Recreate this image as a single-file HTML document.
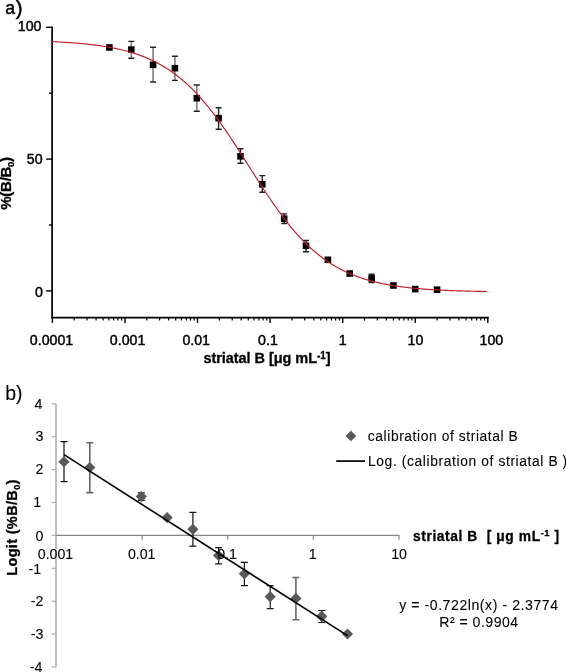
<!DOCTYPE html>
<html><head><meta charset="utf-8"><title>Figure</title>
<style>html,body{margin:0;padding:0;background:#fff;} svg{display:block;}</style></head>
<body><svg width="566" height="672" viewBox="0 0 566 672">
<rect width="566" height="672" fill="#fff"/>
<path d="M52.1,26.560000000000002 V318.20000000000005" stroke="#000" stroke-width="1.7" fill="none"/>
<path d="M46.1,27.3 H52.1" stroke="#000" stroke-width="1.4"/>
<path d="M49.1,93.2 H52.1" stroke="#000" stroke-width="1.4"/>
<path d="M46.1,159.1 H52.1" stroke="#000" stroke-width="1.4"/>
<path d="M49.1,225.0 H52.1" stroke="#000" stroke-width="1.4"/>
<path d="M46.1,290.9 H52.1" stroke="#000" stroke-width="1.4"/>
<path d="M51.300000000000004,317.6 H488.8" stroke="#000" stroke-width="1.6"/>
<path d="M52.4,317.6 V322.90000000000003" stroke="#000" stroke-width="1.4"/>
<path d="M74.2,317.6 V320.6" stroke="#000" stroke-width="1.2"/>
<path d="M87.0,317.6 V320.6" stroke="#000" stroke-width="1.2"/>
<path d="M96.1,317.6 V320.6" stroke="#000" stroke-width="1.2"/>
<path d="M103.1,317.6 V320.6" stroke="#000" stroke-width="1.2"/>
<path d="M108.9,317.6 V320.6" stroke="#000" stroke-width="1.2"/>
<path d="M113.7,317.6 V320.6" stroke="#000" stroke-width="1.2"/>
<path d="M117.9,317.6 V320.6" stroke="#000" stroke-width="1.2"/>
<path d="M121.6,317.6 V320.6" stroke="#000" stroke-width="1.2"/>
<path d="M125.0,317.6 V322.90000000000003" stroke="#000" stroke-width="1.4"/>
<path d="M146.8,317.6 V320.6" stroke="#000" stroke-width="1.2"/>
<path d="M159.6,317.6 V320.6" stroke="#000" stroke-width="1.2"/>
<path d="M168.7,317.6 V320.6" stroke="#000" stroke-width="1.2"/>
<path d="M175.7,317.6 V320.6" stroke="#000" stroke-width="1.2"/>
<path d="M181.4,317.6 V320.6" stroke="#000" stroke-width="1.2"/>
<path d="M186.3,317.6 V320.6" stroke="#000" stroke-width="1.2"/>
<path d="M190.5,317.6 V320.6" stroke="#000" stroke-width="1.2"/>
<path d="M194.2,317.6 V320.6" stroke="#000" stroke-width="1.2"/>
<path d="M197.5,317.6 V322.90000000000003" stroke="#000" stroke-width="1.4"/>
<path d="M219.4,317.6 V320.6" stroke="#000" stroke-width="1.2"/>
<path d="M232.2,317.6 V320.6" stroke="#000" stroke-width="1.2"/>
<path d="M241.2,317.6 V320.6" stroke="#000" stroke-width="1.2"/>
<path d="M248.3,317.6 V320.6" stroke="#000" stroke-width="1.2"/>
<path d="M254.0,317.6 V320.6" stroke="#000" stroke-width="1.2"/>
<path d="M258.9,317.6 V320.6" stroke="#000" stroke-width="1.2"/>
<path d="M263.1,317.6 V320.6" stroke="#000" stroke-width="1.2"/>
<path d="M266.8,317.6 V320.6" stroke="#000" stroke-width="1.2"/>
<path d="M270.1,317.6 V322.90000000000003" stroke="#000" stroke-width="1.4"/>
<path d="M292.0,317.6 V320.6" stroke="#000" stroke-width="1.2"/>
<path d="M304.7,317.6 V320.6" stroke="#000" stroke-width="1.2"/>
<path d="M313.8,317.6 V320.6" stroke="#000" stroke-width="1.2"/>
<path d="M320.8,317.6 V320.6" stroke="#000" stroke-width="1.2"/>
<path d="M326.6,317.6 V320.6" stroke="#000" stroke-width="1.2"/>
<path d="M331.4,317.6 V320.6" stroke="#000" stroke-width="1.2"/>
<path d="M335.6,317.6 V320.6" stroke="#000" stroke-width="1.2"/>
<path d="M339.4,317.6 V320.6" stroke="#000" stroke-width="1.2"/>
<path d="M342.7,317.6 V322.90000000000003" stroke="#000" stroke-width="1.4"/>
<path d="M364.5,317.6 V320.6" stroke="#000" stroke-width="1.2"/>
<path d="M377.3,317.6 V320.6" stroke="#000" stroke-width="1.2"/>
<path d="M386.4,317.6 V320.6" stroke="#000" stroke-width="1.2"/>
<path d="M393.4,317.6 V320.6" stroke="#000" stroke-width="1.2"/>
<path d="M399.2,317.6 V320.6" stroke="#000" stroke-width="1.2"/>
<path d="M404.0,317.6 V320.6" stroke="#000" stroke-width="1.2"/>
<path d="M408.2,317.6 V320.6" stroke="#000" stroke-width="1.2"/>
<path d="M411.9,317.6 V320.6" stroke="#000" stroke-width="1.2"/>
<path d="M415.2,317.6 V322.90000000000003" stroke="#000" stroke-width="1.4"/>
<path d="M437.1,317.6 V320.6" stroke="#000" stroke-width="1.2"/>
<path d="M449.9,317.6 V320.6" stroke="#000" stroke-width="1.2"/>
<path d="M458.9,317.6 V320.6" stroke="#000" stroke-width="1.2"/>
<path d="M466.0,317.6 V320.6" stroke="#000" stroke-width="1.2"/>
<path d="M471.7,317.6 V320.6" stroke="#000" stroke-width="1.2"/>
<path d="M476.6,317.6 V320.6" stroke="#000" stroke-width="1.2"/>
<path d="M480.8,317.6 V320.6" stroke="#000" stroke-width="1.2"/>
<path d="M484.5,317.6 V320.6" stroke="#000" stroke-width="1.2"/>
<path d="M487.8,317.6 V322.90000000000003" stroke="#000" stroke-width="1.4"/>
<rect x="106.1" y="44.2" width="6.6" height="6.6" fill="#000"/>
<path d="M131.3,41.4 V58.3" stroke="#858585" stroke-width="1.7" fill="none"/>
<path d="M128.3,41.4 h6 M128.3,58.3 h6" stroke="#222" stroke-width="1.4" fill="none"/>
<rect x="128.0" y="46.3" width="6.6" height="6.6" fill="#000"/>
<path d="M153.1,47.3 V82" stroke="#858585" stroke-width="1.7" fill="none"/>
<path d="M150.1,47.3 h6 M150.1,82 h6" stroke="#222" stroke-width="1.4" fill="none"/>
<rect x="149.8" y="61.5" width="6.6" height="6.6" fill="#000"/>
<path d="M174.9,56.2 V80.4" stroke="#858585" stroke-width="1.7" fill="none"/>
<path d="M171.9,56.2 h6 M171.9,80.4 h6" stroke="#222" stroke-width="1.4" fill="none"/>
<rect x="171.6" y="64.9" width="6.6" height="6.6" fill="#000"/>
<path d="M196.8,85 V111.3" stroke="#858585" stroke-width="1.7" fill="none"/>
<path d="M193.8,85 h6 M193.8,111.3 h6" stroke="#222" stroke-width="1.4" fill="none"/>
<rect x="193.5" y="94.9" width="6.6" height="6.6" fill="#000"/>
<path d="M218.6,107.7 V129.3 M215.6,107.7 h6 M215.6,129.3 h6" stroke="#222" stroke-width="1.4" fill="none"/>
<rect x="215.3" y="114.9" width="6.6" height="6.6" fill="#000"/>
<path d="M240.5,148.8 V163.2 M237.5,148.8 h6 M237.5,163.2 h6" stroke="#222" stroke-width="1.4" fill="none"/>
<rect x="237.2" y="153.0" width="6.6" height="6.6" fill="#000"/>
<path d="M262.3,175.6 V192.2 M259.3,175.6 h6 M259.3,192.2 h6" stroke="#222" stroke-width="1.4" fill="none"/>
<rect x="259.0" y="181.0" width="6.6" height="6.6" fill="#000"/>
<path d="M284.2,213.9 V223.5 M281.2,213.9 h6 M281.2,223.5 h6" stroke="#222" stroke-width="1.4" fill="none"/>
<rect x="280.9" y="215.4" width="6.6" height="6.6" fill="#000"/>
<path d="M306.0,240.5 V251.8 M303.0,240.5 h6 M303.0,251.8 h6" stroke="#222" stroke-width="1.4" fill="none"/>
<rect x="302.7" y="242.5" width="6.6" height="6.6" fill="#000"/>
<rect x="324.6" y="256.5" width="6.6" height="6.6" fill="#000"/>
<rect x="346.4" y="270.2" width="6.6" height="6.6" fill="#000"/>
<path d="M371.6,274.3 V282.6 M368.6,274.3 h6 M368.6,282.6 h6" stroke="#222" stroke-width="1.4" fill="none"/>
<rect x="368.3" y="275.1" width="6.6" height="6.6" fill="#000"/>
<rect x="390.1" y="282.2" width="6.6" height="6.6" fill="#000"/>
<rect x="411.9" y="285.8" width="6.6" height="6.6" fill="#000"/>
<rect x="433.8" y="286.4" width="6.6" height="6.6" fill="#000"/>
<polyline points="52.1,41.63 53.1,41.67 54.1,41.72 55.1,41.77 56.1,41.82 57.1,41.87 58.1,41.92 59.1,41.97 60.1,42.03 61.1,42.08 62.1,42.14 63.1,42.20 64.1,42.26 65.1,42.32 66.1,42.38 67.1,42.45 68.1,42.51 69.1,42.58 70.1,42.65 71.1,42.72 72.1,42.79 73.1,42.87 74.1,42.95 75.1,43.02 76.1,43.10 77.1,43.19 78.1,43.27 79.1,43.36 80.1,43.45 81.1,43.54 82.1,43.63 83.1,43.73 84.1,43.82 85.1,43.92 86.1,44.03 87.1,44.13 88.1,44.24 89.1,44.35 90.1,44.46 91.1,44.58 92.1,44.70 93.1,44.82 94.1,44.94 95.1,45.07 96.1,45.20 97.1,45.33 98.1,45.47 99.1,45.61 100.1,45.75 101.1,45.90 102.1,46.05 103.1,46.21 104.1,46.36 105.1,46.53 106.1,46.69 107.1,46.86 108.1,47.03 109.1,47.21 110.1,47.39 111.1,47.58 112.1,47.77 113.1,47.97 114.1,48.17 115.1,48.37 116.1,48.58 117.1,48.80 118.1,49.02 119.1,49.24 120.1,49.47 121.1,49.71 122.1,49.95 123.1,50.19 124.1,50.45 125.1,50.70 126.1,50.97 127.1,51.24 128.1,51.51 129.1,51.80 130.1,52.09 131.1,52.38 132.1,52.69 133.1,53.00 134.1,53.31 135.1,53.64 136.1,53.97 137.1,54.31 138.1,54.65 139.1,55.01 140.1,55.37 141.1,55.74 142.1,56.11 143.1,56.50 144.1,56.90 145.1,57.30 146.1,57.71 147.1,58.13 148.1,58.56 149.1,59.00 150.1,59.45 151.1,59.91 152.1,60.38 153.1,60.86 154.1,61.35 155.1,61.85 156.1,62.35 157.1,62.87 158.1,63.40 159.1,63.95 160.1,64.50 161.1,65.06 162.1,65.64 163.1,66.22 164.1,66.82 165.1,67.43 166.1,68.06 167.1,68.69 168.1,69.34 169.1,70.00 170.1,70.67 171.1,71.36 172.1,72.05 173.1,72.77 174.1,73.49 175.1,74.23 176.1,74.98 177.1,75.75 178.1,76.53 179.1,77.32 180.1,78.13 181.1,78.95 182.1,79.78 183.1,80.63 184.1,81.50 185.1,82.38 186.1,83.27 187.1,84.18 188.1,85.11 189.1,86.04 190.1,87.00 191.1,87.97 192.1,88.95 193.1,89.95 194.1,90.97 195.1,92.00 196.1,93.04 197.1,94.10 198.1,95.18 199.1,96.27 200.1,97.37 201.1,98.50 202.1,99.63 203.1,100.78 204.1,101.95 205.1,103.13 206.1,104.33 207.1,105.54 208.1,106.76 209.1,108.00 210.1,109.26 211.1,110.53 212.1,111.81 213.1,113.11 214.1,114.42 215.1,115.74 216.1,117.08 217.1,118.43 218.1,119.79 219.1,121.17 220.1,122.55 221.1,123.95 222.1,125.37 223.1,126.79 224.1,128.22 225.1,129.67 226.1,131.12 227.1,132.59 228.1,134.06 229.1,135.55 230.1,137.04 231.1,138.55 232.1,140.06 233.1,141.57 234.1,143.10 235.1,144.63 236.1,146.17 237.1,147.72 238.1,149.27 239.1,150.82 240.1,152.38 241.1,153.95 242.1,155.52 243.1,157.09 244.1,158.67 245.1,160.24 246.1,161.82 247.1,163.40 248.1,164.98 249.1,166.56 250.1,168.14 251.1,169.73 252.1,171.30 253.1,172.88 254.1,174.46 255.1,176.03 256.1,177.60 257.1,179.17 258.1,180.73 259.1,182.29 260.1,183.84 261.1,185.38 262.1,186.93 263.1,188.46 264.1,189.99 265.1,191.51 266.1,193.02 267.1,194.53 268.1,196.02 269.1,197.51 270.1,198.99 271.1,200.46 272.1,201.91 273.1,203.36 274.1,204.80 275.1,206.22 276.1,207.64 277.1,209.04 278.1,210.43 279.1,211.81 280.1,213.18 281.1,214.53 282.1,215.87 283.1,217.20 284.1,218.52 285.1,219.82 286.1,221.10 287.1,222.38 288.1,223.63 289.1,224.88 290.1,226.11 291.1,227.32 292.1,228.52 293.1,229.71 294.1,230.88 295.1,232.03 296.1,233.18 297.1,234.30 298.1,235.41 299.1,236.51 300.1,237.59 301.1,238.65 302.1,239.70 303.1,240.73 304.1,241.75 305.1,242.76 306.1,243.74 307.1,244.72 308.1,245.68 309.1,246.62 310.1,247.55 311.1,248.46 312.1,249.36 313.1,250.24 314.1,251.11 315.1,251.97 316.1,252.81 317.1,253.63 318.1,254.44 319.1,255.24 320.1,256.02 321.1,256.79 322.1,257.55 323.1,258.29 324.1,259.02 325.1,259.73 326.1,260.44 327.1,261.12 328.1,261.80 329.1,262.46 330.1,263.11 331.1,263.75 332.1,264.38 333.1,264.99 334.1,265.59 335.1,266.18 336.1,266.76 337.1,267.33 338.1,267.89 339.1,268.43 340.1,268.96 341.1,269.49 342.1,270.00 343.1,270.50 344.1,270.99 345.1,271.47 346.1,271.94 347.1,272.40 348.1,272.86 349.1,273.30 350.1,273.73 351.1,274.16 352.1,274.57 353.1,274.98 354.1,275.37 355.1,275.76 356.1,276.14 357.1,276.51 358.1,276.88 359.1,277.23 360.1,277.58 361.1,277.92 362.1,278.26 363.1,278.58 364.1,278.90 365.1,279.21 366.1,279.52 367.1,279.82 368.1,280.11 369.1,280.39 370.1,280.67 371.1,280.94 372.1,281.21 373.1,281.47 374.1,281.72 375.1,281.97 376.1,282.21 377.1,282.45 378.1,282.68 379.1,282.91 380.1,283.13 381.1,283.34 382.1,283.55 383.1,283.76 384.1,283.96 385.1,284.16 386.1,284.35 387.1,284.54 388.1,284.72 389.1,284.90 390.1,285.08 391.1,285.25 392.1,285.41 393.1,285.58 394.1,285.73 395.1,285.89 396.1,286.04 397.1,286.19 398.1,286.33 399.1,286.48 400.1,286.61 401.1,286.75 402.1,286.88 403.1,287.01 404.1,287.13 405.1,287.25 406.1,287.37 407.1,287.49 408.1,287.60 409.1,287.71 410.1,287.82 411.1,287.93 412.1,288.03 413.1,288.13 414.1,288.23 415.1,288.33 416.1,288.42 417.1,288.51 418.1,288.60 419.1,288.69 420.1,288.77 421.1,288.86 422.1,288.94 423.1,289.02 424.1,289.09 425.1,289.17 426.1,289.24 427.1,289.31 428.1,289.38 429.1,289.45 430.1,289.52 431.1,289.58 432.1,289.65 433.1,289.71 434.1,289.77 435.1,289.83 436.1,289.88 437.1,289.94 438.1,290.00 439.1,290.05 440.1,290.10 441.1,290.15 442.1,290.20 443.1,290.25 444.1,290.30 445.1,290.34 446.1,290.39 447.1,290.43 448.1,290.47 449.1,290.52 450.1,290.56 451.1,290.60 452.1,290.63 453.1,290.67 454.1,290.71 455.1,290.74 456.1,290.78 457.1,290.81 458.1,290.85 459.1,290.88 460.1,290.91 461.1,290.94 462.1,290.97 463.1,291.00 464.1,291.03 465.1,291.06 466.1,291.09 467.1,291.11 468.1,291.14 469.1,291.16 470.1,291.19 471.1,291.21 472.1,291.24 473.1,291.26 474.1,291.28 475.1,291.30 476.1,291.33 477.1,291.35 478.1,291.37 479.1,291.39 480.1,291.41 481.1,291.42 482.1,291.44 483.1,291.46 484.1,291.48 485.1,291.49 486.1,291.51 487.1,291.53" fill="none" stroke="#c41c26" stroke-width="1.15"/>
<path d="M56.0,403.79999999999995 V667.0" stroke="#bbb" stroke-width="1.9" fill="none"/>
<path d="M51.6,667.0 H56.0" stroke="#aaa" stroke-width="1.2"/>
<path d="M51.6,634.1 H56.0" stroke="#aaa" stroke-width="1.2"/>
<path d="M51.6,601.2 H56.0" stroke="#aaa" stroke-width="1.2"/>
<path d="M51.6,568.3 H56.0" stroke="#aaa" stroke-width="1.2"/>
<path d="M51.6,535.4 H56.0" stroke="#aaa" stroke-width="1.2"/>
<path d="M51.6,502.5 H56.0" stroke="#aaa" stroke-width="1.2"/>
<path d="M51.6,469.6 H56.0" stroke="#aaa" stroke-width="1.2"/>
<path d="M51.6,436.7 H56.0" stroke="#aaa" stroke-width="1.2"/>
<path d="M51.6,403.8 H56.0" stroke="#aaa" stroke-width="1.2"/>
<path d="M142.2,535.4 V539.6999999999999" stroke="#999" stroke-width="1.4"/>
<path d="M227.8,535.4 V539.6999999999999" stroke="#999" stroke-width="1.4"/>
<path d="M313.4,535.4 V539.6999999999999" stroke="#999" stroke-width="1.4"/>
<path d="M399.0,535.4 V539.6999999999999" stroke="#999" stroke-width="1.4"/>
<path d="M56.0,535.4 H399.6" stroke="#888" stroke-width="1.2"/>
<path d="M64.0,441.6 V481.6 M60.5,441.6 h7 M60.5,481.6 h7" stroke="#111" stroke-width="1.2" fill="none"/>
<path d="M89.8,442.7 V492.6 M86.3,442.7 h7 M86.3,492.6 h7" stroke="#666" stroke-width="1.6" fill="none"/>
<path d="M141.3,492.9 V500.3 M137.8,492.9 h7 M137.8,500.3 h7" stroke="#111" stroke-width="1.2" fill="none"/>
<path d="M192.9,512.4 V546.2 M189.4,512.4 h7 M189.4,546.2 h7" stroke="#111" stroke-width="1.2" fill="none"/>
<path d="M218.6,547.7 V563.9 M215.1,547.7 h7 M215.1,563.9 h7" stroke="#111" stroke-width="1.2" fill="none"/>
<path d="M244.4,562.3 V585.7 M240.9,562.3 h7 M240.9,585.7 h7" stroke="#111" stroke-width="1.2" fill="none"/>
<path d="M270.2,585.7 V608.7 M266.7,585.7 h7 M266.7,608.7 h7" stroke="#222" stroke-width="1.2" fill="none"/>
<path d="M295.9,577.5 V619.7 M292.4,577.5 h7 M292.4,619.7 h7" stroke="#666" stroke-width="1.6" fill="none"/>
<path d="M321.7,610.5 V622.5 M318.2,610.5 h7 M318.2,622.5 h7" stroke="#111" stroke-width="1.2" fill="none"/>
<path d="M64.0,456.2 l5.6,5.6 l-5.6,5.6 l-5.6,-5.6 z" fill="#595959"/>
<path d="M89.8,461.9 l5.6,5.6 l-5.6,5.6 l-5.6,-5.6 z" fill="#595959"/>
<path d="M141.3,491.0 l5.6,5.6 l-5.6,5.6 l-5.6,-5.6 z" fill="#595959"/>
<path d="M167.1,512.0 l5.6,5.6 l-5.6,5.6 l-5.6,-5.6 z" fill="#595959"/>
<path d="M192.9,523.7 l5.6,5.6 l-5.6,5.6 l-5.6,-5.6 z" fill="#595959"/>
<path d="M218.6,549.9 l5.6,5.6 l-5.6,5.6 l-5.6,-5.6 z" fill="#595959"/>
<path d="M244.4,568.2 l5.6,5.6 l-5.6,5.6 l-5.6,-5.6 z" fill="#595959"/>
<path d="M270.2,591.1 l5.6,5.6 l-5.6,5.6 l-5.6,-5.6 z" fill="#595959"/>
<path d="M295.9,592.8 l5.6,5.6 l-5.6,5.6 l-5.6,-5.6 z" fill="#595959"/>
<path d="M321.7,610.7 l5.6,5.6 l-5.6,5.6 l-5.6,-5.6 z" fill="#595959"/>
<path d="M347.5,628.4 l5.6,5.6 l-5.6,5.6 l-5.6,-5.6 z" fill="#595959"/>
<path d="M64.0,454.7 L347.5,635.7" stroke="#000" stroke-width="1.6"/>
<path d="M350.9,430.6 l5.3,5.3 l-5.3,5.3 l-5.3,-5.3 z" fill="#595959"/>
<path d="M336.2,461.1 H365" stroke="#000" stroke-width="1.7"/>
<text id="a)" x="5.15" y="13.60" font-family="Liberation Sans, Arial, Helvetica, sans-serif" font-size="17.6" stroke="#000" stroke-width="0.45" style="white-space:pre">a</text>
<text id="a)p" x="15.75" y="14.80" font-family="Liberation Sans, Arial, Helvetica, sans-serif" font-size="20.5" stroke="#000" stroke-width="0.45" style="white-space:pre">)</text>
<text id="100" x="17.80" y="31.25" font-family="Liberation Sans, Arial, Helvetica, sans-serif" font-size="14.2" stroke="#000" stroke-width="0.45" style="white-space:pre">100</text>
<text id="50" x="26.85" y="163.55" font-family="Liberation Sans, Arial, Helvetica, sans-serif" font-size="14.2" stroke="#000" stroke-width="0.45" style="white-space:pre">50</text>
<text id="0a" x="35.00" y="296.70" font-family="Liberation Sans, Arial, Helvetica, sans-serif" font-size="14.2" stroke="#000" stroke-width="0.45" style="white-space:pre">0</text>
<text id="ax0.0001" x="29.80" y="345.20" font-family="Liberation Sans, Arial, Helvetica, sans-serif" font-size="14.2" stroke="#000" stroke-width="0.45" style="white-space:pre">0.0001</text>
<text id="ax0.001" x="109.85" y="345.20" font-family="Liberation Sans, Arial, Helvetica, sans-serif" font-size="14.2" stroke="#000" stroke-width="0.45" style="white-space:pre">0.001</text>
<text id="ax0.01" x="182.40" y="345.20" font-family="Liberation Sans, Arial, Helvetica, sans-serif" font-size="14.2" stroke="#000" stroke-width="0.45" style="white-space:pre">0.01</text>
<text id="ax0.1" x="258.05" y="345.20" font-family="Liberation Sans, Arial, Helvetica, sans-serif" font-size="14.2" stroke="#000" stroke-width="0.45" style="white-space:pre">0.1</text>
<text id="ax1" x="338.70" y="345.20" font-family="Liberation Sans, Arial, Helvetica, sans-serif" font-size="14.2" stroke="#000" stroke-width="0.45" style="white-space:pre">1</text>
<text id="ax10" x="407.50" y="345.20" font-family="Liberation Sans, Arial, Helvetica, sans-serif" font-size="14.2" stroke="#000" stroke-width="0.45" style="white-space:pre">10</text>
<text id="ax100" x="479.50" y="345.20" font-family="Liberation Sans, Arial, Helvetica, sans-serif" font-size="14.2" stroke="#000" stroke-width="0.45" style="white-space:pre">100</text>
<text id="axt" x="203.40" y="362.90" font-family="Liberation Sans, Arial, Helvetica, sans-serif" font-size="14.5" font-weight="bold" textLength="127.20" lengthAdjust="spacing" stroke="#000" stroke-width="0.3" style="white-space:pre">striatal B [μg mL<tspan font-size="10" dy="-4.2">-1</tspan><tspan dy="4.2">]</tspan></text>
<text id="ayt" transform="translate(10.80,209.70) rotate(-90)" x="0" y="0" font-family="Liberation Sans, Arial, Helvetica, sans-serif" font-size="15" font-weight="bold" textLength="52.80" lengthAdjust="spacing" stroke="#000" stroke-width="0.3" style="white-space:pre">%(B/B<tspan font-size="9.5" dy="3">0</tspan><tspan dy="-3">)</tspan></text>
<text id="b)" x="5.20" y="399.60" font-family="Liberation Sans, Arial, Helvetica, sans-serif" font-size="19.5" stroke="#000" stroke-width="0.08" style="white-space:pre">b)</text>
<text id="by-4" x="42.30" y="672.05" font-family="Liberation Sans, Arial, Helvetica, sans-serif" font-size="14.2" text-anchor="end" stroke="#000" stroke-width="0.08" style="white-space:pre">-4</text>
<text id="by-3" x="43.30" y="639.25" font-family="Liberation Sans, Arial, Helvetica, sans-serif" font-size="14.2" text-anchor="end" stroke="#000" stroke-width="0.08" style="white-space:pre">-3</text>
<text id="by-2" x="43.30" y="606.45" font-family="Liberation Sans, Arial, Helvetica, sans-serif" font-size="14.2" text-anchor="end" stroke="#000" stroke-width="0.08" style="white-space:pre">-2</text>
<text id="by-1" x="41.10" y="573.65" font-family="Liberation Sans, Arial, Helvetica, sans-serif" font-size="14.2" text-anchor="end" stroke="#000" stroke-width="0.08" style="white-space:pre">-1</text>
<text id="by0" x="43.30" y="540.85" font-family="Liberation Sans, Arial, Helvetica, sans-serif" font-size="14.2" text-anchor="end" stroke="#000" stroke-width="0.08" style="white-space:pre">0</text>
<text id="by1" x="41.10" y="507.05" font-family="Liberation Sans, Arial, Helvetica, sans-serif" font-size="14.2" text-anchor="end" stroke="#000" stroke-width="0.08" style="white-space:pre">1</text>
<text id="by2" x="43.30" y="474.25" font-family="Liberation Sans, Arial, Helvetica, sans-serif" font-size="14.2" text-anchor="end" stroke="#000" stroke-width="0.08" style="white-space:pre">2</text>
<text id="by3" x="43.30" y="441.45" font-family="Liberation Sans, Arial, Helvetica, sans-serif" font-size="14.2" text-anchor="end" stroke="#000" stroke-width="0.08" style="white-space:pre">3</text>
<text id="by4" x="42.30" y="408.65" font-family="Liberation Sans, Arial, Helvetica, sans-serif" font-size="14.2" text-anchor="end" stroke="#000" stroke-width="0.08" style="white-space:pre">4</text>
<text id="bx0.001" x="37.75" y="558.50" font-family="Liberation Sans, Arial, Helvetica, sans-serif" font-size="14.2" stroke="#000" stroke-width="0.08" style="white-space:pre">0.001</text>
<text id="bx0.01" x="127.90" y="558.50" font-family="Liberation Sans, Arial, Helvetica, sans-serif" font-size="14.2" stroke="#000" stroke-width="0.08" style="white-space:pre">0.01</text>
<text id="bx0.1" x="217.15" y="558.50" font-family="Liberation Sans, Arial, Helvetica, sans-serif" font-size="14.2" stroke="#000" stroke-width="0.08" style="white-space:pre">0.1</text>
<text id="bx1" x="308.70" y="558.50" font-family="Liberation Sans, Arial, Helvetica, sans-serif" font-size="14.2" stroke="#000" stroke-width="0.08" style="white-space:pre">1</text>
<text id="bx10" x="391.20" y="558.50" font-family="Liberation Sans, Arial, Helvetica, sans-serif" font-size="14.2" stroke="#000" stroke-width="0.08" style="white-space:pre">10</text>
<text id="bxt" x="413.00" y="540.70" font-family="Liberation Sans, Arial, Helvetica, sans-serif" font-size="13.8" font-weight="bold" textLength="146.10" lengthAdjust="spacing" stroke="#000" stroke-width="0.3" style="white-space:pre">striatal B  [ μg mL<tspan font-size="9.3" dy="-4.6">-1</tspan><tspan dy="4.6"> ]</tspan></text>
<text id="byt" transform="translate(17.20,575.75) rotate(-90)" x="0" y="0" font-family="Liberation Sans, Arial, Helvetica, sans-serif" font-size="14.6" font-weight="bold" textLength="96.10" lengthAdjust="spacing" stroke="#000" stroke-width="0.3" style="white-space:pre">Logit (%B/B<tspan font-size="9" dy="3">0</tspan><tspan dy="-3">)</tspan></text>
<text id="leg1" x="367.80" y="440.60" font-family="Liberation Sans, Arial, Helvetica, sans-serif" font-size="13.8" textLength="150.00" lengthAdjust="spacing" stroke="#000" stroke-width="0.08" style="white-space:pre">calibration of striatal B</text>
<text id="leg2" x="368.00" y="465.80" font-family="Liberation Sans, Arial, Helvetica, sans-serif" font-size="13.8" textLength="189.70" lengthAdjust="spacing" stroke="#000" stroke-width="0.08" style="white-space:pre">Log. (calibration of striatal B</text>
<text id="leg2p" x="562.60" y="465.80" font-family="Liberation Sans, Arial, Helvetica, sans-serif" font-size="13.8" stroke="#000" stroke-width="0.08" style="white-space:pre">)</text>
<text id="eq1" x="399.20" y="610.00" font-family="Liberation Sans, Arial, Helvetica, sans-serif" font-size="14.1" textLength="158.80" lengthAdjust="spacing" stroke="#000" stroke-width="0.08" style="white-space:pre">y = -0.722ln(x) - 2.3774</text>
<text id="eq2" x="439.20" y="627.20" font-family="Liberation Sans, Arial, Helvetica, sans-serif" font-size="14.1" textLength="79.00" lengthAdjust="spacing" stroke="#000" stroke-width="0.08" style="white-space:pre">R² = 0.9904</text>
</svg></body></html>
